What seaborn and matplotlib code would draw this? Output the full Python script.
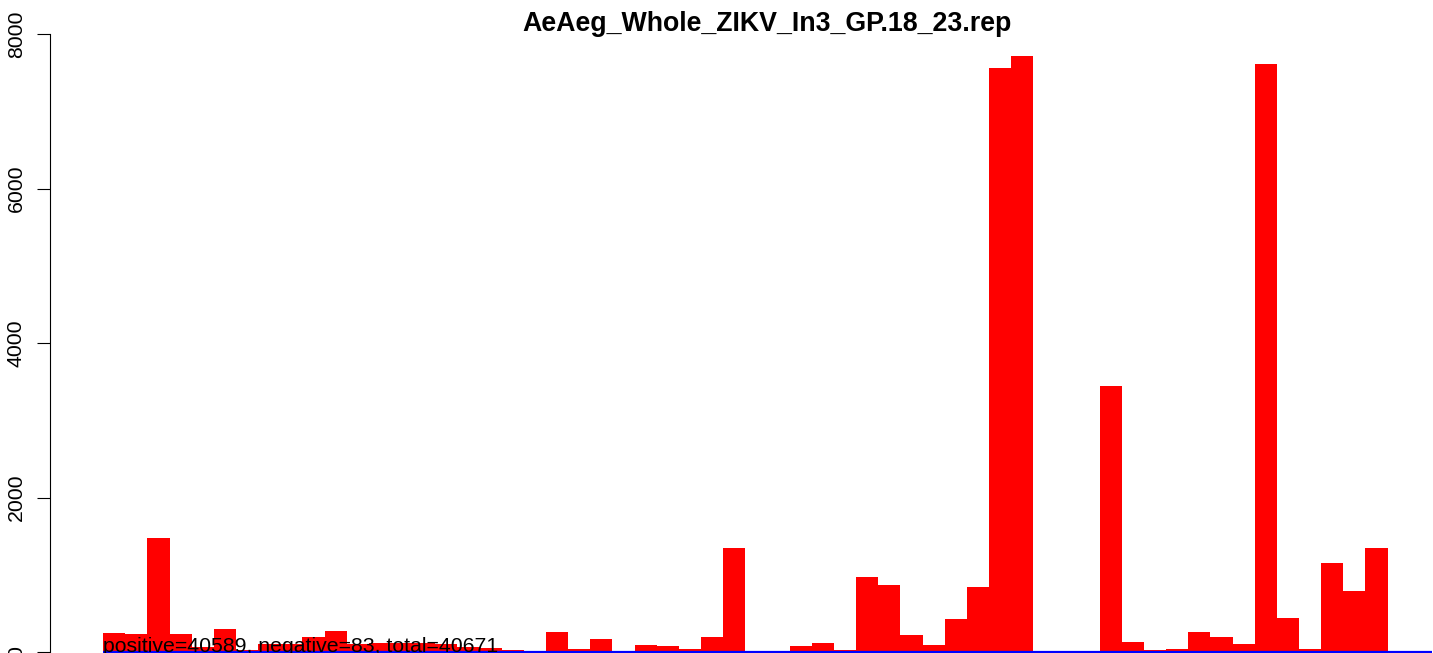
import numpy as np
import pandas as pd
import seaborn as sns
import matplotlib
matplotlib.use('Agg')
import matplotlib.pyplot as plt

# values (one bar per position, 60 positions)
positions = list(range(1, 61))
positive_counts = [246, 233, 1476, 233, 70, 298, 20, 104, 104, 198,
                   272, 110, 115, 115, 115, 110, 60, 55, 25, 15,
                   259, 39, 168, 13, 95, 78, 39, 198, 1346, 10,
                   10, 82, 117, 30, 971, 867, 222, 91, 427, 841,
                   7560, 7715, 0, 3, 13, 3443, 129, 26, 39, 259,
                   194, 104, 7612, 440, 39, 1152, 790, 1346, 13, 13]
negative_counts = [-2, -1, -2, -1, -1, -2, -1, -1, -2, -1,
                   -2, -1, -1, -2, -1, -1, -2, -1, -1, -2,
                   -1, -1, -2, -1, -1, -2, -1, -1, -2, -1,
                   -2, -1, -1, -2, -1, -1, -2, -1, -1, -2,
                   -1, -1, -2, -1, -1, -2, -1, -1, -2, -1,
                   -2, -1, -1, -2, -1, -1, -2, -1, -2, -1]
title = 'AeAeg_Whole_ZIKV_In3_GP.18_23.rep'
summary = 'positive=40589, negative=83, total=40671'
yticks = [0, 2000, 4000, 6000, 8000]

df = pd.DataFrame({'pos': positions, 'plus': positive_counts, 'minus': negative_counts})

sns.set_theme(style='white')
plt.rcParams['font.family'] = ['Liberation Sans', 'DejaVu Sans']

W, H = 1433, 653
fig = plt.figure(figsize=(W / 100, H / 100), dpi=100)
# plot region runs past the right and bottom edges (the reference is cropped)
ax = fig.add_axes([50 / W, (H - 700) / H, 1435 / W, 690 / H])

sns.barplot(data=df, x='pos', y='plus', color='#FF0000', saturation=1, width=1,
            linewidth=0, errorbar=None, ax=ax)
sns.barplot(data=df, x='pos', y='minus', color='#0000FF', saturation=1, width=1,
            linewidth=1.6, edgecolor='#0000FF', errorbar=None, ax=ax)

ax.set_xlim(-2.9, 61.9)
ax.set_ylim(-621, 8311)
ax.set_xticks([])
ax.set_xlabel('')
ax.set_ylabel('')
ax.set_yticks(yticks)
ax.set_yticklabels([str(t) for t in yticks])
ax.tick_params(axis='y', direction='out', length=9.4, width=0.8, pad=8.0,
               labelsize=15.3, labelcolor='black', color='black', left=True)
for lab in ax.get_yticklabels():
    lab.set_rotation(90)
    lab.set_va('center')
    lab.set_ha('right')

for s in ['top', 'right', 'bottom']:
    ax.spines[s].set_visible(False)
ax.spines['left'].set_bounds(0, 8000)
ax.spines['left'].set_color('black')
ax.spines['left'].set_linewidth(0.8)

ax.text(-0.5, 0, summary, ha='left', va='baseline', fontsize=15.3, color='black', zorder=5)
fig.text(767 / W, 1 - 31 / H, title, ha='center', va='baseline',
         fontsize=19.3, fontweight='bold', color='black')

fig.savefig('out.png', dpi=100)
